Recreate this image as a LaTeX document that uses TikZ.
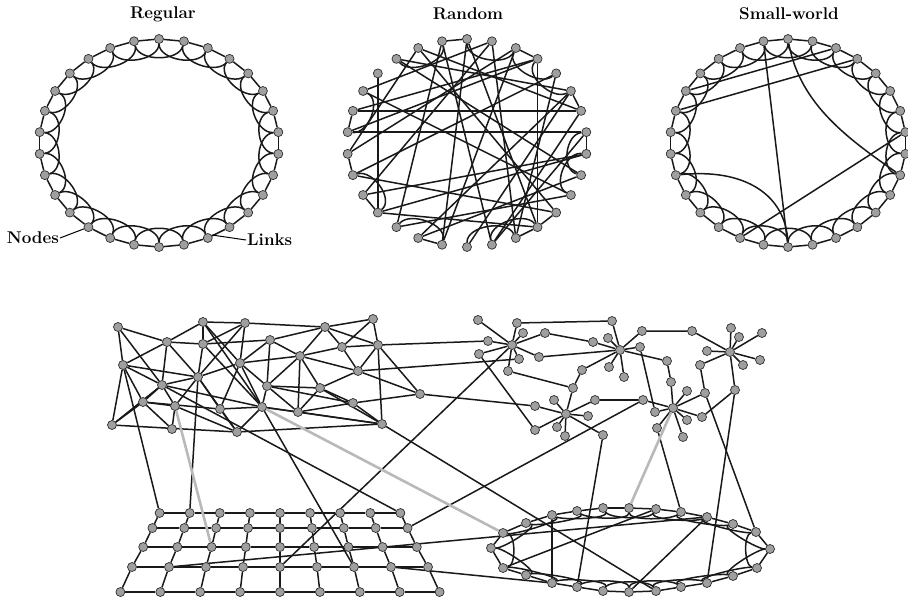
\documentclass[tikz,border=0pt]{standalone}
\usepackage{tikz}
\usetikzlibrary{calc,backgrounds}

\begin{document}
\begin{tikzpicture}[
  x=1pt, y=-1pt,
  vertex/.style={circle, fill=gray!75, draw=gray!35!black, line width=0.7pt, inner sep=0pt, minimum size=9pt},
  link/.style={line width=1.5pt, draw=black!90},
  shortcut/.style={line width=2.6pt, draw=gray!55},
  title/.style={font=\fontsize{17}{20}\selectfont\bfseries},
  tag/.style={font=\fontsize{17}{20}\selectfont\bfseries, inner sep=1pt},
  pointer/.style={line width=1pt, draw=black}
]
\useasboundingbox (0,0) rectangle (908,600);

% titles
\node[title] (tregular) at (163,14) {Regular};
\node[title] (trandom) at (468,14) {Random};
\node[title] (tsmall) at (789,14) {Small-world};

% the three rings
\coordinate (regc) at (159,143);
\coordinate (rndc) at (467,143);
\coordinate (swc) at (788,143);
\foreach \k in {0,...,29} {
  \node[vertex] (reg\k) at ({159+120*cos(90+12*\k)}, {143-104*sin(90+12*\k)}) {};
  \node[vertex] (rnd\k) at ({467+120*cos(90+12*\k)}, {143-104*sin(90+12*\k)}) {};
  \node[vertex] (sw\k) at ({788+118*cos(90+12*\k)}, {143-104*sin(90+12*\k)}) {};
}

\begin{scope}[on background layer]
\foreach \k in {0,...,29} {
  \pgfmathtruncatemacro{\kn}{mod(\k+1,30)}
  \pgfmathtruncatemacro{\kk}{mod(\k+2,30)}
  \draw[link] (reg\k) -- (reg\kn);
  \draw[link] (reg\k) .. controls ($(reg\k)!21pt!(regc)$) and ($(reg\kk)!21pt!(regc)$) .. (reg\kk);
  \draw[link] (sw\k) -- (sw\kn);
  \draw[link] (sw\k) .. controls ($(sw\k)!21pt!(swc)$) and ($(sw\kk)!21pt!(swc)$) .. (sw\kk);
}
% rewired links
\foreach \a/\b in {6/24, 4/11, 1/16, 1/12, 0/14, 0/18, 29/17, 29/10, 28/8, 27/6,
  26/9, 25/13, 24/16, 23/7, 22/11, 21/3, 20/5, 19/2, 18/27, 17/26, 16/23, 15/25,
  14/28, 13/21, 12/20, 10/22, 9/19, 8/2, 7/27, 5/29, 3/25, 2/24, 11/18,
  0/1, 6/7, 8/9, 13/14, 17/18, 22/23, 27/28, 10/11, 18/19, 24/25}
  \draw[link] (rnd\a) -- (rnd\b);
\foreach \a/\b in {28/0, 1/3, 5/7, 9/11, 12/14, 15/17, 16/18, 20/22, 21/23, 25/27, 26/28}
  \draw[link] (rnd\a) .. controls ($(rnd\a)!21pt!(rndc)$) and ($(rnd\b)!21pt!(rndc)$) .. (rnd\b);
\foreach \a/\b in {1/15, 6/27, 5/28, 13/23}
  \draw[link] (sw\a) -- (sw\b);
\draw[link] (sw0) .. controls (800,105) and (850,140) .. (sw21);
\draw[link] (sw9) .. controls (745,168) and (786,195) .. (sw15);
\end{scope}

\node[tag, anchor=east] (tnodes) at (60,238) {Nodes};
\node[tag, anchor=west] (tlinks) at (246,240) {Links};
\coordinate (linkpt) at (212,235);
\draw[pointer] (tnodes.east) -- (reg12);
\draw[pointer] (tlinks.west) -- (linkpt);

% mesh cluster
\foreach \x/\y [count=\k] in {118/327, 203/322, 245/323, 325/327, 373/319, 167/342,
  203/344, 270/340, 342/347, 378/345, 123/365, 240/363, 300/356, 198/377, 162/385,
  267/386, 320/388, 358/371, 143/402, 175/406, 220/409, 262/407, 298/412, 353/403,
  420/394, 112/425, 172/429, 237/432, 382/424}
  \node[vertex] (m\k) at (\x,\y) {};

% stars
\node[vertex] (ha) at (512,345) {};
\foreach \x/\y [count=\k] in {478/320, 517/323, 523/333, 545/333, 488/341, 479/354,
  519/359, 539/357, 508/371}
  \node[vertex] (ha\k) at (\x,\y) {};
\node[vertex] (hb) at (620,350) {};
\foreach \x/\y [count=\k] in {612/321, 642/331, 593/342, 608/338, 640/347, 609/367,
  624/377, 582/370, 667/361}
  \node[vertex] (hb\k) at (\x,\y) {};
\node[vertex] (hc) at (730,352) {};
\foreach \x/\y [count=\k] in {731/328, 739/337, 762/333, 707/351, 760/360, 743/365, 700/365}
  \node[vertex] (hc\k) at (\x,\y) {};
\node[vertex] (hd) at (673,408) {};
\foreach \x/\y [count=\k] in {687/391, 705/393, 655/412, 657/428, 687/420, 702/417,
  683/437, 643/400}
  \node[vertex] (hd\k) at (\x,\y) {};
\node[vertex] (he) at (566,414) {};
\foreach \x/\y [count=\k] in {554/400, 595/400, 588/416, 557/427, 535/430, 535/406,
  565/436, 603/435, 573/388}
  \node[vertex] (he\k) at (\x,\y) {};
\node[vertex] (hbc) at (692,331) {};
\node[vertex] (hbd) at (671,382) {};
\node[vertex] (hcd) at (735,390) {};

% lattice
\foreach \j/\y/\w in {1/513/30.1, 2/528/31.9, 3/547/34.2, 4/567/37, 5/592/39.9}
  \foreach \i in {1,...,9}
    \node[vertex] (g\i-\j) at ({280+(\i-5)*\w}, \y) {};

% flat ring
\coordinate (ec) at (630,550);
\foreach \x/\y [count=\k from 0] in {770/549, 756/532, 733/524, 707/517, 681/512,
  656/509, 629/508, 603/508, 577/511, 552/515, 526/523, 503/533, 491/548, 503/568,
  526/575, 552/583, 577/587, 603/591, 629/592, 656/591, 681/587, 707/583, 733/576, 757/568}
  \node[vertex] (e\k) at (\x,\y) {};

\begin{scope}[on background layer]
% mesh links
\foreach \a/\b in {1/6, 1/11, 1/15, 2/3, 3/4, 4/5, 2/6, 2/7, 2/22, 7/22, 2/12, 3/7,
  3/12, 3/14, 6/7, 6/11, 6/15, 6/14, 7/8, 7/14, 8/4, 8/13, 8/16, 8/12, 4/9, 4/13,
  5/9, 5/10, 4/10, 9/10, 9/13, 9/18, 10/18, 10/25, 10/29, 11/14, 11/15, 11/19, 11/26,
  12/13, 12/14, 12/16, 12/21, 12/22, 13/16, 13/17, 13/18, 13/23, 14/15, 14/20, 14/21,
  14/28, 15/19, 15/20, 15/22, 16/17, 16/22, 16/23, 16/24, 17/18, 17/24, 17/29, 17/23,
  18/25, 19/20, 19/26, 19/27, 19/21, 20/27, 20/28, 21/22, 21/28, 22/23, 22/28, 22/29,
  23/24, 23/29, 24/25, 24/29, 26/28, 26/15, 28/29}
  \draw[link] (m\a) -- (m\b);
% star links
\foreach \k in {1,...,9} {
  \draw[link] (ha) -- (ha\k);
  \draw[link] (hb) -- (hb\k);
  \draw[link] (he) -- (he\k);
}
\foreach \k in {1,...,7} \draw[link] (hc) -- (hc\k);
\foreach \k in {1,...,8} \draw[link] (hd) -- (hd\k);
\draw[link] (ha2) -- (hb1);
\draw[link] (ha4) -- (hb3);
\draw[link] (ha8) -- (hb);
\draw[link] (hb2) -- (hbc) -- (hc);
\draw[link] (hb9) -- (hbd) -- (hd);
\draw[link] (hb5) -- (hd3);
\draw[link] (he2) -- (hd8);
\draw[link] (ha9) -- (he9);
\draw[link] (hb8) -- (he9);
\draw[link] (ha6) -- (he5);
\draw[link] (hc7) -- (hd2);
\draw[link] (hcd) -- (hc);
\draw[link] (hcd) -- (hd6);
\draw[link] (m10) -- (ha5);
\draw[link] (m18) -- (ha7);
\draw[link] (m25) -- (he6);
% lattice links
\foreach \j in {1,...,5}
  \foreach \i [count=\n from 2] in {1,...,8}
    \draw[link] (g\i-\j) -- (g\n-\j);
\foreach \i in {1,...,9}
  \foreach \j [count=\n from 2] in {1,...,4}
    \draw[link] (g\i-\j) -- (g\i-\n);
\draw[link] (m11) -- (g1-1);
\draw[link] (m14) -- (g2-1);
\draw[link] (m15) -- (g9-1);
\draw[link] (m22) -- (g7-4);
\draw[link] (g5-4) -- (ha);
\draw[link] (g9-2) -- (hd8);
\draw[link] (g2-4) -- (e3);
\draw[link] (g8-4) -- (e15);
% flat ring links
\foreach \k in {0,...,23} {
  \pgfmathtruncatemacro{\kn}{mod(\k+1,24)}
  \pgfmathtruncatemacro{\kk}{mod(\k+2,24)}
  \draw[link] (e\k) -- (e\kn);
  \draw[link] (e\k) .. controls ($(e\k)!13pt!(ec)$) and ($(e\kk)!13pt!(ec)$) .. (e\kk);
}
\draw[link] (m29) -- (e19);
\draw[link] (hd2) -- (e1);
\draw[link] (hcd) -- (e21);
\draw[link] (hd4) -- (e4);
\draw[link] (he8) -- (e16);
\draw[link] (e9) -- (e15);
\draw[link] (e3) -- (e18);
\draw[link] (e13) -- (e5);
% grey shortcuts
\draw[shortcut] (m20) -- (g3-3);
\draw[shortcut] (m22) -- (e11);
\draw[shortcut] (hd) -- (e6);
\end{scope}
\end{tikzpicture}
\end{document}
